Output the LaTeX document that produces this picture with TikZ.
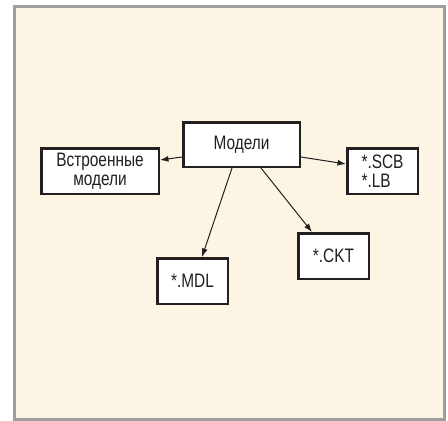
\documentclass[tikz,border=0pt]{standalone}
\usepackage{fontspec}
\setmainfont[FakeStretch=0.79]{Liberation Sans}
\usetikzlibrary{arrows.meta}
\definecolor{paper}{HTML}{FDF5E3}
\definecolor{frame}{HTML}{9E9E9E}
\definecolor{ink}{HTML}{231F20}
\tikzset{
  box/.style={draw=ink,fill=white,line width=2.5pt,inner sep=0pt,
    minimum height=45.5pt,text=ink,font=\fontsize{19.5}{19.5}\selectfont},
  link/.style={draw=ink,line width=1pt,-{Latex[length=8.5pt,width=6pt]}}
}
\begin{document}
\begin{tikzpicture}[x=1pt,y=-1pt]
\useasboundingbox (0,0) rectangle (448,421);
\draw[frame,fill=paper,line width=3pt] (14.8,6.2) rectangle (444.7,419.2);

\node[box,minimum width=116.5pt,minimum height=44.5pt] (mod) at (241.5,144.5) {Модели};
\node[box,minimum width=117.5pt,align=center] (bi) at (100,171) {Встроенные\\модели};
\node[box,minimum width=70.5pt,align=left] (scb) at (382.5,171) {*.SCB\\*.LB};
\node[box,minimum width=70.5pt] (ckt) at (333.5,256) {*.CKT};
\node[box,minimum width=70.5pt] (mdl) at (192.5,281) {*.MDL};

\draw[link] ([yshift=-12.5pt]mod.west) -- ([yshift=11pt]bi.east);
\draw[link] ([yshift=-12.5pt]mod.east) -- ([yshift=7pt]scb.west);
\draw[link] ([xshift=-9.5pt]mod.south) -- ([xshift=9.5pt]mdl.north);
\draw[link] ([xshift=19.5pt]mod.south) -- ([xshift=-21.5pt]ckt.north);
\end{tikzpicture}
\end{document}
